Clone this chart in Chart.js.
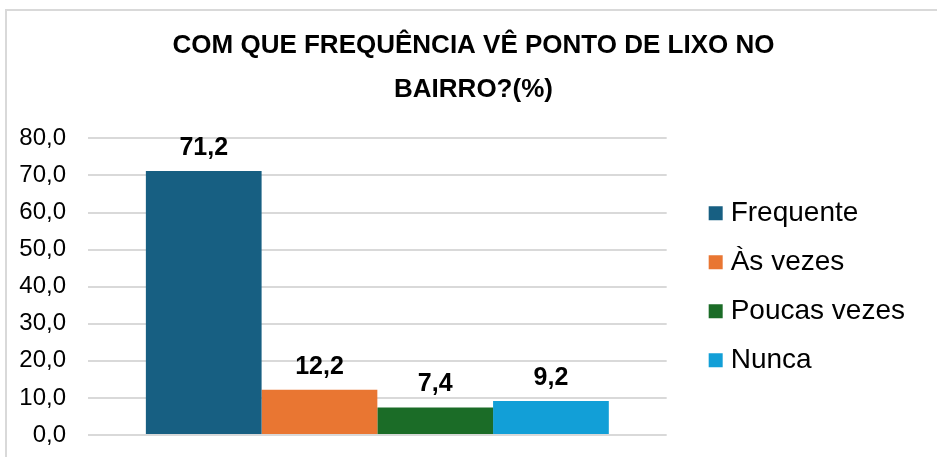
<!DOCTYPE html>
<html>
<head>
<meta charset="utf-8">
<script src="https://cdn.jsdelivr.net/npm/chart.js@4"></script>
<style>
  html, body { margin: 0; padding: 0; background: #fff; }
  #wrap { position: relative; width: 937px; height: 457px; overflow: hidden; }
  #frame { position: absolute; left: 5px; top: 9px; width: 960px; height: 480px; border: 2px solid #d9d9d9; }
  canvas { position: absolute; left: 0; top: 0; }
</style>
</head>
<body>
<div id="wrap">
  <div id="frame"></div>
  <canvas id="chart1" width="937" height="457"></canvas>
</div>
<script>
const titleLines = ['COM QUE FREQUÊNCIA VÊ PONTO DE LIXO NO', 'BAIRRO?(%)']
const category = ['']
const seriesNames = ['Frequente', 'Às vezes', 'Poucas vezes', 'Nunca']
const seriesValues = [71.2, 12.2, 7.4, 9.2]
const seriesColors = ['#175f82', '#e97632', '#1b6c27', '#129fd7']
const yTicks = [0, 10, 20, 30, 40, 50, 60, 70, 80]

function fmt(v) {
    return v.toFixed(1).replace('.', ',')
}

const datasets = []
for (i = 0; i < seriesNames.length; i++) {
    datasets.push({
        label: seriesNames[i],
        data: [seriesValues[i]],
        backgroundColor: seriesColors[i],
        borderWidth: 0,
        yAxisID: 'y'
    })
}

// value labels above each bar
const barLabels = {
    id: 'barLabels',
    afterDatasetsDraw(chart) {
        const ctx = chart.ctx
        ctx.save()
        ctx.font = 'bold 25px "Liberation Sans", Arial, sans-serif'
        ctx.fillStyle = '#000'
        ctx.textAlign = 'center'
        ctx.textBaseline = 'middle'
        chart.data.datasets.forEach((ds, i) => {
            chart.getDatasetMeta(i).data.forEach((bar, j) => {
                ctx.fillText(fmt(ds.data[j]), bar.x, bar.y - 23)
            })
        })
        ctx.restore()
    }
}

// empty side boxes, only to hold space
const spacer = (w, weight) => ({
    position: 'right',
    display: true,
    weight: weight,
    afterFit: (axis) => { axis.width = w },
    ticks: { display: false },
    grid: { display: false },
    border: { display: false }
})

new Chart(document.getElementById('chart1'), {
    type: 'bar',
    data: { labels: category, datasets: datasets },
    plugins: [barLabels],
    options: {
        responsive: false,
        animation: false,
        layout: { padding: { left: 10, right: 0, top: 24, bottom: 22 } },
        datasets: { bar: { categoryPercentage: 0.8, barPercentage: 1.0 } },
        plugins: {
            title: {
                display: true,
                text: titleLines,
                color: '#000',
                font: { family: '"Liberation Sans", Arial, sans-serif', size: 26, weight: 'bold', lineHeight: 1.7 },
                padding: { top: 0, bottom: 26 }
            },
            legend: {
                position: 'right',
                fullSize: false,
                maxWidth: 300,
                labels: {
                    color: '#000',
                    font: { family: '"Liberation Sans", Arial, sans-serif', size: 28 },
                    usePointStyle: true,
                    pointStyle: 'rect',
                    boxWidth: 2,
                    boxHeight: 14,
                    padding: 21
                }
            },
            tooltip: { enabled: false }
        },
        scales: {
            x: { display: false },
            y: {
                min: 0,
                max: 80,
                afterBuildTicks: (axis) => { axis.ticks = yTicks.map(v => ({ value: v })) },
                afterFit: (axis) => {
                    axis.width = 78
                    axis.paddingTop = 0
                    axis.paddingBottom = 0
                },
                ticks: {
                    color: '#000',
                    padding: 22,
                    font: { family: '"Liberation Sans", Arial, sans-serif', size: 24 },
                    callback: (value) => fmt(value)
                },
                grid: { color: '#d9d9d9', lineWidth: 2, drawTicks: false },
                border: { display: false }
            },
            gap: spacer(27, 0),
            edge: spacer(22, 2000)
        }
    }
})
</script>
</body>
</html>
